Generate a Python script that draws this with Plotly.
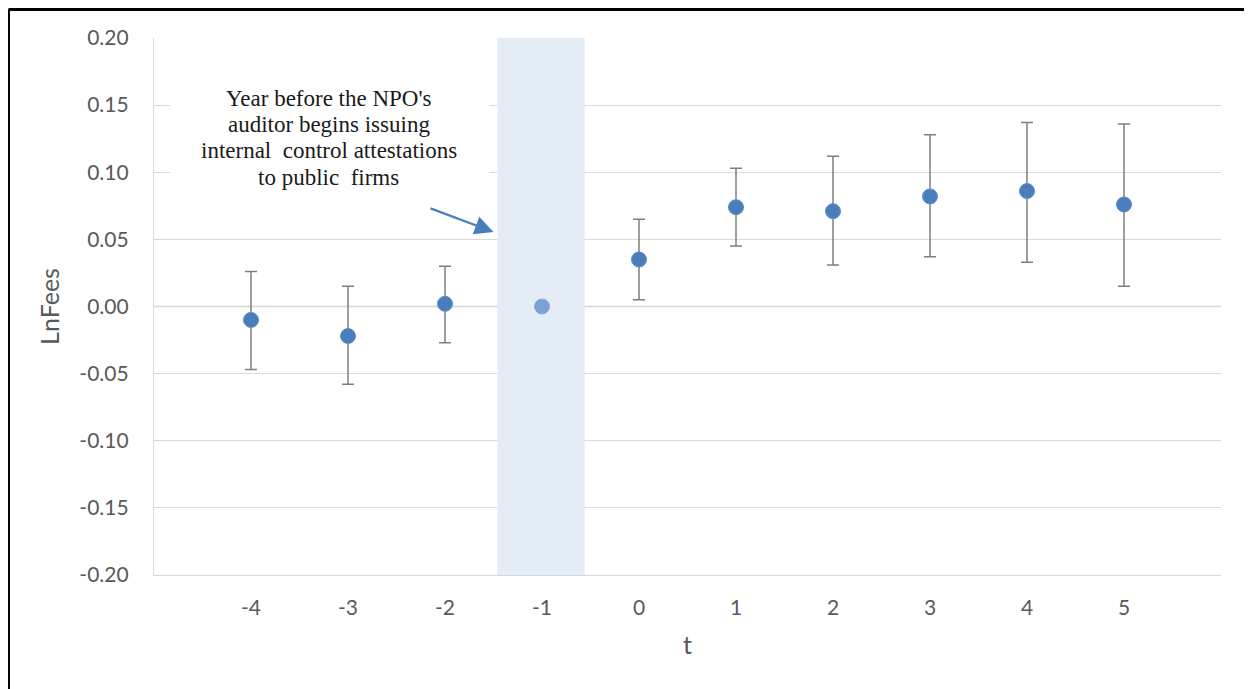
import plotly.graph_objects as go

t_vals = [-4, -3, -2, -1, 0, 1, 2, 3, 4, 5]
coef = [-0.010, -0.022, 0.002, 0.000, 0.035, 0.074, 0.071, 0.082, 0.086, 0.076]
upper = [0.026, 0.015, 0.030, None, 0.065, 0.103, 0.112, 0.128, 0.137, 0.136]
lower = [-0.047, -0.058, -0.027, None, 0.005, 0.045, 0.031, 0.037, 0.033, 0.015]
y_ticks = [0.20, 0.15, 0.10, 0.05, 0.00, -0.05, -0.10, -0.15, -0.20]
y_tick_text = ["0.20", "0.15", "0.10", "0.05", "0.00", "-0.05", "-0.10", "-0.15", "-0.20"]
band = [-1.46, -0.56]
note_lines = ["Year before the NPO's", "auditor begins issuing",
              "internal  control attestations", "to public  firms"]

# split into estimated points and the reference (omitted) year
est_x = [t for t, u in zip(t_vals, upper) if u is not None]
est_y = [c for c, u in zip(coef, upper) if u is not None]
err_plus = [u - c for c, u in zip(coef, upper) if u is not None]
err_minus = [c - l for c, l in zip(coef, lower) if l is not None]
ref_x = [t for t, u in zip(t_vals, upper) if u is None]
ref_y = [c for c, u in zip(coef, upper) if u is None]

fig = go.Figure()
fig.add_trace(go.Scatter(
    x=est_x, y=est_y, mode="markers",
    marker=dict(size=15, color="#4a7ebb", line=dict(width=1, color="#5a8ccb")),
    error_y=dict(type="data", symmetric=False, array=err_plus, arrayminus=err_minus,
                 color="#7f7f7f", thickness=1.5, width=6),
    showlegend=False, hoverinfo="x+y"))
fig.add_trace(go.Scatter(
    x=ref_x, y=ref_y, mode="markers",
    marker=dict(size=15, color="#7aa1d3", line=dict(width=1, color="#86aad8")),
    showlegend=False, hoverinfo="x+y"))

fig.add_shape(type="rect", xref="x", yref="y", x0=band[0], x1=band[1], y0=-0.2, y1=0.2,
              fillcolor="#e4ecf5", line=dict(width=0), layer="between")
fig.add_shape(type="line", xref="paper", yref="y", x0=0, x1=1, y0=0, y1=0,
              line=dict(color="#cccccc", width=1.3), layer="between")

# white text box covering the gridlines behind the note
fig.add_shape(type="rect", xref="x", yref="y", x0=-4.835, x1=-1.546, y0=0.076, y1=0.176,
              fillcolor="white", line=dict(width=0), layer="between")
note_x = -3.196
note_top = 0.1553
note_step = 0.0197
for i, line in enumerate(note_lines):
    fig.add_annotation(x=note_x, y=note_top - i * note_step, xref="x", yref="y", text=line,
                       showarrow=False, xanchor="center", yanchor="middle",
                       font=dict(family="Liberation Serif", size=23, color="#1a1a1a"))
# arrow
fig.add_annotation(x=-1.50, y=0.0555, ax=-2.165, ay=0.0735, xref="x", yref="y",
                   axref="x", ayref="y", text="", showarrow=True, arrowhead=2,
                   arrowsize=1.7, arrowwidth=2.2, arrowcolor="#4a7ebb", standoff=0)

# outer frame (top and left edges)
fig.add_shape(type="line", xref="paper", yref="paper", x0=-0.1364, x1=1.2, y0=1.0531, y1=1.0531,
              line=dict(color="black", width=3))
fig.add_shape(type="line", xref="paper", yref="paper", x0=-0.1364, x1=-0.1364, y0=-0.3, y1=1.0531,
              line=dict(color="black", width=3))

tick_font = dict(family="Lato", size=21, color="#595959")
title_font = dict(family="Lato", size=25, color="#595959")
fig.update_layout(
    width=1244, height=681,
    margin=dict(l=146, r=31, t=30, b=114),
    paper_bgcolor="white", plot_bgcolor="white",
    xaxis=dict(range=[-5, 6], tickvals=t_vals, ticktext=[str(t) for t in t_vals],
               showgrid=False, zeroline=False, showline=True, linecolor="#d9d9d9", linewidth=1.3,
               ticks="", tickfont=tick_font, ticklabelstandoff=14,
               title=dict(text="t", font=title_font, standoff=18)),
    yaxis=dict(range=[-0.2, 0.2], tickvals=y_ticks, ticktext=y_tick_text,
               showgrid=True, gridcolor="#d9d9d9", gridwidth=1.3, zeroline=False,
               showline=True, linecolor="#d9d9d9", linewidth=1.3,
               ticks="", tickfont=tick_font, ticklabelstandoff=20,
               title=dict(text="LnFees", font=title_font, standoff=12)),
)

fig.write_html("out.html")
